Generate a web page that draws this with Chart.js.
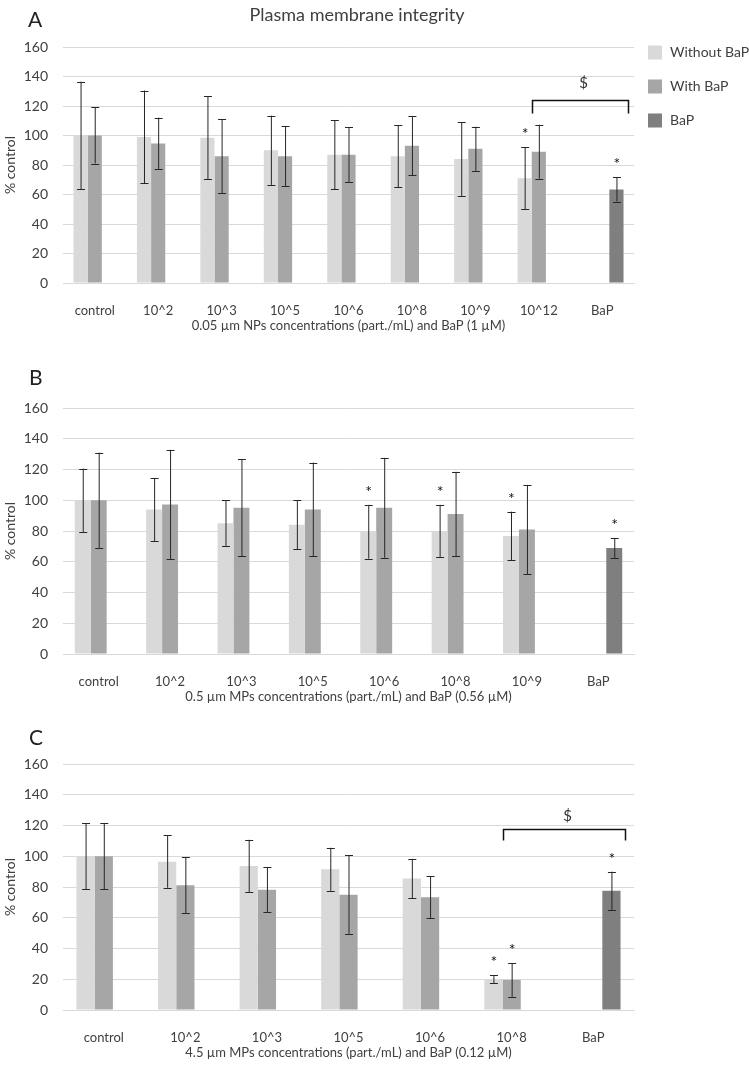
<!DOCTYPE html>
<html>
<head>
<meta charset="utf-8">
<title>Plasma membrane integrity</title>
<script src="https://cdn.jsdelivr.net/npm/chart.js@4.4.0/dist/chart.umd.min.js"></script>
<style>
  html, body { margin: 0; padding: 0; background: #fff; overflow: hidden; }
  #wrap { position: relative; width: 749px; height: 1066px; }
  canvas { position: absolute; left: 0; }
</style>
</head>
<body>
<div id="wrap">
  <canvas id="chartA" width="749" height="340" style="top:0px"></canvas>
  <canvas id="chartB" width="749" height="371" style="top:340px"></canvas>
  <canvas id="chartC" width="749" height="356" style="top:711px"></canvas>
</div>
<script>
var seriesNames = ["Without BaP", "With BaP", "BaP"];
var seriesColors = ["#d9d9d9", "#a6a6a6", "#7f7f7f"];
var yTicks = [0, 20, 40, 60, 80, 100, 120, 140, 160];

// A - 0.05 um NPs
var catsA = ["control", "10^2", "10^3", "10^5", "10^6", "10^8", "10^9", "10^12", "BaP"];
var withoutA = [100, 99, 98.5, 90, 87, 86, 84, 71, null];
var withoutErrA = [36.5, 31.5, 28, 23.5, 23.5, 21, 25, 21, null];
var withA = [100, 94.6, 86, 86, 87, 93, 91, 89, null];
var withErrA = [19, 17.5, 25, 20.5, 18.5, 20, 15, 18.3, null];
var bapA = [null, null, null, null, null, null, null, null, 63.4];
var bapErrA = [null, null, null, null, null, null, null, null, 8.2];
var starsWithoutA = [0, 0, 0, 0, 0, 0, 0, 1, 0];
var starsWithA = [0, 0, 0, 0, 0, 0, 0, 0, 0];
var starsBapA = [0, 0, 0, 0, 0, 0, 0, 0, 1];

// B - 0.5 um MPs
var catsB = ["control", "10^2", "10^3", "10^5", "10^6", "10^8", "10^9", "BaP"];
var withoutB = [100, 94, 85, 84, 79.5, 80, 76.8, null];
var withoutErrB = [20.6, 20.5, 15, 16, 17.5, 17, 15.8, null];
var withB = [100, 97.3, 95.1, 94, 95.1, 91, 81, null];
var withErrB = [31, 35.5, 31.5, 30.5, 32.5, 27.5, 29, null];
var bapB = [null, null, null, null, null, null, null, 69];
var bapErrB = [null, null, null, null, null, null, null, 6.5];
var starsWithoutB = [0, 0, 0, 0, 1, 1, 1, 0];
var starsWithB = [0, 0, 0, 0, 0, 0, 0, 0];
var starsBapB = [0, 0, 0, 0, 0, 0, 0, 1];

// C - 4.5 um MPs
var catsC = ["control", "10^2", "10^3", "10^5", "10^6", "10^8", "BaP"];
var withoutC = [100, 96.5, 93.7, 91.5, 85.5, 20, null];
var withoutErrC = [21.5, 17, 17, 14, 12.8, 2.6, null];
var withC = [100, 81.2, 78.2, 75, 73.3, 19.6, null];
var withErrC = [21.5, 18.2, 14.7, 25.5, 13.7, 11, null];
var bapC = [null, null, null, null, null, null, 77.5];
var bapErrC = [null, null, null, null, null, null, 12.5];
var starsWithoutC = [0, 0, 0, 0, 0, 1, 0];
var starsWithC = [0, 0, 0, 0, 0, 1, 0];
var starsBapC = [0, 0, 0, 0, 0, 0, 1];

var FONT = "Lato, 'Open Sans', sans-serif";
var TXT = "#404040";

// error bars, asterisks, brackets, panel letter, title, legend
var annotPlugin = {
    id: 'annot',
    afterDatasetsDraw: function (chart) {
        var o = chart.options.plugins.annot;
        var ctx = chart.ctx;
        var ys = chart.scales.y;
        ctx.save();
        chart.data.datasets.forEach(function (ds, i) {
            var meta = chart.getDatasetMeta(i);
            meta.data.forEach(function (bar, j) {
                var v = ds.data[j];
                if (v == null) return;
                var e = ds.errors[j] || 0;
                var yt = ys.getPixelForValue(v + e);
                var yb = ys.getPixelForValue(v - e);
                ctx.strokeStyle = "#262626";
                ctx.lineWidth = 1;
                ctx.beginPath();
                ctx.moveTo(bar.x + 0.5, yt);
                ctx.lineTo(bar.x + 0.5, yb);
                ctx.moveTo(bar.x - 3.5, Math.round(yt) + 0.5);
                ctx.lineTo(bar.x + 4.5, Math.round(yt) + 0.5);
                ctx.moveTo(bar.x - 3.5, Math.round(yb) + 0.5);
                ctx.lineTo(bar.x + 4.5, Math.round(yb) + 0.5);
                ctx.stroke();
                if (ds.stars[j]) {
                    ctx.fillStyle = "#111";
                    ctx.font = "16px " + FONT;
                    ctx.textAlign = "center";
                    ctx.textBaseline = "alphabetic";
                    ctx.fillText("*", bar.x + 0.5, yt - 8);
                }
            });
        });

        // significance bracket
        if (o.bracket) {
            var b = o.bracket;
            var left = chart.getDatasetMeta(0).data[b.from];
            var right = chart.getDatasetMeta(2).data[b.to];
            var x1 = Math.round(left.x + left.width / 2) + 0.5;
            var x2 = Math.round(right.x + right.width / 2 + 4) + 0.5;
            var yTop = Math.round(ys.getPixelForValue(b.level)) + 0.5;
            ctx.strokeStyle = "#111";
            ctx.lineWidth = 1.5;
            ctx.beginPath();
            ctx.moveTo(x1, yTop + b.drop);
            ctx.lineTo(x1, yTop);
            ctx.lineTo(x2, yTop);
            ctx.lineTo(x2, yTop + b.drop);
            ctx.stroke();
            ctx.fillStyle = "#333";
            ctx.font = "15px " + FONT;
            ctx.textAlign = "center";
            ctx.textBaseline = "middle";
            ctx.fillText(b.label, (x1 + x2) / 2 + 3, yTop - b.labelGap);
        }

        // panel letter
        ctx.fillStyle = "#222";
        ctx.font = "21px " + FONT;
        ctx.textAlign = "left";
        ctx.textBaseline = "middle";
        ctx.fillText(o.letter, o.letterX, o.letterY);

        if (o.title) {
            ctx.fillStyle = TXT;
            ctx.font = "18px " + FONT;
            ctx.textAlign = "center";
            ctx.fillText(o.title, o.titleX, o.titleY);
        }

        // legend on the right
        if (o.legend) {
            ctx.font = "14px " + FONT;
            ctx.textAlign = "left";
            ctx.textBaseline = "middle";
            chart.data.datasets.forEach(function (ds, i) {
                var cy = o.legendY + i * 34;
                ctx.fillStyle = ds.backgroundColor;
                ctx.fillRect(o.legendX, cy - 7, 14, 14);
                ctx.fillStyle = TXT;
                ctx.fillText(ds.label, o.legendX + 22, cy);
            });
        }
        ctx.restore();
    }
};

function makeChart(id, cats, values, errs, stars, xTitle, annot, padTop) {
    var datasets = values.map(function (vals, i) {
        return {
            label: seriesNames[i],
            data: vals,
            errors: errs[i],
            stars: stars[i],
            backgroundColor: seriesColors[i],
            borderWidth: 0,
            categoryPercentage: 0.67,
            barPercentage: 1.0
        };
    });
    return new Chart(document.getElementById(id), {
        type: 'bar',
        data: { labels: cats, datasets: datasets },
        plugins: [annotPlugin],
        options: {
            responsive: false,
            animation: false,
            layout: { padding: { top: padTop, right: 115, left: 0, bottom: 0 } },
            plugins: {
                legend: { display: false },
                tooltip: { enabled: false },
                annot: annot
            },
            scales: {
                x: {
                    grid: { display: false },
                    border: { display: true, color: "#d9d9d9" },
                    ticks: { color: TXT, font: { family: FONT, size: 13 }, padding: 12, maxRotation: 0, autoSkip: false },
                    title: { display: true, text: xTitle, color: TXT, font: { family: FONT, size: 13 }, padding: { top: 0, bottom: 6 } },
                    afterFit: function (s) { s.height = 57; }
                },
                y: {
                    min: 0,
                    max: 160,
                    afterBuildTicks: function (s) { s.ticks = yTicks.map(function (v) { return { value: v }; }); },
                    grid: { color: "#d9d9d9", drawTicks: false },
                    border: { display: false },
                    ticks: { color: TXT, font: { family: FONT, size: 14 }, padding: 15 },
                    title: { display: true, text: "% control", color: TXT, font: { family: FONT, size: 14 }, padding: { top: 2, bottom: 0 } },
                    afterFit: function (s) { s.width = 63; }
                }
            }
        }
    });
}

makeChart('chartA', catsA,
    [withoutA, withA, bapA], [withoutErrA, withErrA, bapErrA], [starsWithoutA, starsWithA, starsBapA],
    "0.05 \u00b5m NPs concentrations (part./mL) and BaP (1 \u00b5M)",
    { letter: "A", letterX: 28, letterY: 20, title: "Plasma membrane integrity", titleX: 357, titleY: 15,
      legend: true, legendX: 648, legendY: 52.5,
      bracket: { from: 7, to: 8, level: 124, drop: 13, label: "$", labelGap: 17 } },
    47);

makeChart('chartB', catsB,
    [withoutB, withB, bapB], [withoutErrB, withErrB, bapErrB], [starsWithoutB, starsWithB, starsBapB],
    "0.5 \u00b5m MPs concentrations (part./mL) and BaP (0.56 \u00b5M)",
    { letter: "B", letterX: 29, letterY: 38 },
    68);

makeChart('chartC', catsC,
    [withoutC, withC, bapC], [withoutErrC, withErrC, bapErrC], [starsWithoutC, starsWithC, starsBapC],
    "4.5 \u00b5m MPs concentrations (part./mL) and BaP (0.12 \u00b5M)",
    { letter: "C", letterX: 29, letterY: 27,
      bracket: { from: 5, to: 6, level: 117.7, drop: 11, label: "$", labelGap: 13 } },
    53);
</script>
</body>
</html>
